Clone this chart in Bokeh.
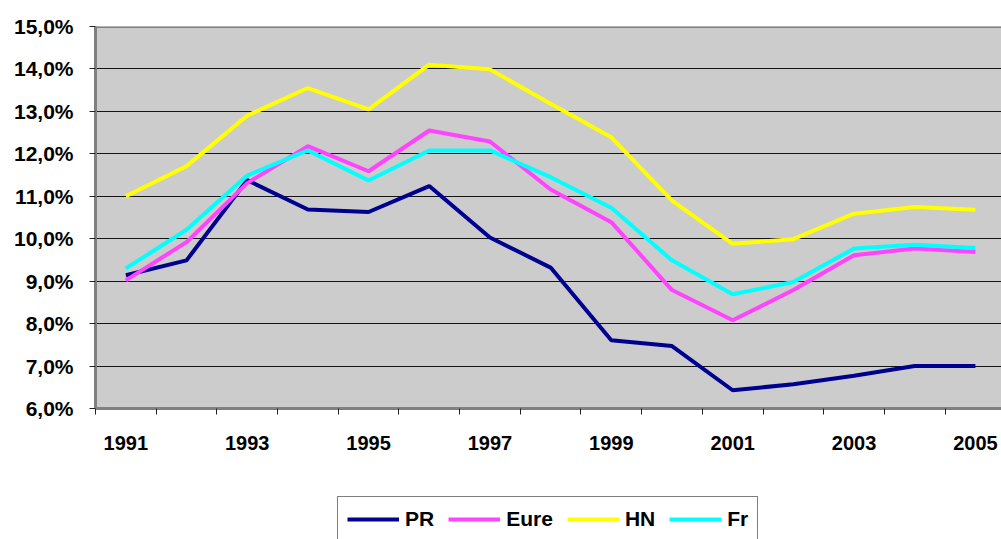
from bokeh.plotting import figure
from bokeh.layouts import column
from bokeh.models import FixedTicker, Span, Legend, LegendItem, Range1d
from bokeh.embed import file_html
from bokeh.resources import INLINE

# ---- data ----
years = [1991, 1992, 1993, 1994, 1995, 1996, 1997, 1998, 1999, 2000, 2001, 2002, 2003, 2004, 2005]
pr = [9.14, 9.49, 11.38, 10.69, 10.63, 11.24, 10.03, 9.32, 7.61, 7.47, 6.43, 6.57, 6.77, 7.00, 7.00]
eure = [9.02, 9.92, 11.31, 12.18, 11.59, 12.55, 12.29, 11.16, 10.39, 8.79, 8.08, 8.79, 9.61, 9.77, 9.69]
hn = [11.00, 11.71, 12.90, 13.55, 13.05, 14.10, 13.99, 13.18, 12.39, 10.90, 9.88, 9.99, 10.59, 10.75, 10.68]
fr = [9.30, 10.21, 11.49, 12.08, 11.37, 12.08, 12.08, 11.45, 10.73, 9.49, 8.69, 8.98, 9.77, 9.86, 9.78]
series_names = ["PR", "Eure", "HN", "Fr"]
series_colors = ["#000090", "#FF44FF", "#FFFF00", "#00FFFF"]
x_tick_years = [1991, 1993, 1995, 1997, 1999, 2001, 2003, 2005]
x_tick_labels = ["1991", "1993", "1995", "1997", "1999", "2001", "2003", "2005"]
y_ticks = [6, 7, 8, 9, 10, 11, 12, 13, 14, 15]
y_tick_labels = ["6,0%", "7,0%", "8,0%", "9,0%", "10,0%", "11,0%", "12,0%", "13,0%", "14,0%", "15,0%"]

FONT = "Liberation Sans"

p = figure(width=1001, height=490, output_backend="svg", toolbar_location=None,
           x_range=Range1d(1990.5, 2005.43), y_range=Range1d(6, 15),
           min_border_left=95, min_border_right=0, min_border_top=26, min_border_bottom=82)
p.background_fill_color = "#CCCCCC"
p.border_fill_color = "white"
p.outline_line_color = None

# axes
p.xaxis.ticker = FixedTicker(ticks=x_tick_years,
                             minor_ticks=[y - 0.5 for y in years] + [years[-1] + 0.5])
p.xaxis.major_label_overrides = {y: l for y, l in zip(x_tick_years, x_tick_labels)}
p.xaxis.major_tick_out = 0
p.xaxis.major_tick_in = 0
p.xaxis.minor_tick_out = 6
p.xaxis.minor_tick_in = 0
p.xaxis.minor_tick_line_color = "#222222"
p.xaxis.major_label_standoff = 21
p.xaxis.major_label_text_font_size = "20px"

p.yaxis.ticker = FixedTicker(ticks=y_ticks, minor_ticks=[])
p.yaxis.major_label_overrides = {t: l for t, l in zip(y_ticks, y_tick_labels)}
p.yaxis.major_tick_out = 6
p.yaxis.major_tick_in = 0
p.yaxis.major_tick_line_color = "#222222"
p.yaxis.major_label_standoff = 16
p.yaxis.major_label_text_font_size = "21px"

for ax in (p.xaxis, p.yaxis):
    ax.axis_line_color = "#808080"
    ax.axis_line_width = 3
    ax.major_label_text_font = FONT
    ax.major_label_text_font_style = "bold"
    ax.major_label_text_color = "black"

p.xgrid.visible = False
p.ygrid.grid_line_color = "black"
p.ygrid.grid_line_width = 1
p.ygrid.grid_line_alpha = 0.9

top = Span(location=15, dimension="width", line_color="#808080", line_width=3)
p.add_layout(top)

series = [pr, eure, hn, fr]
for name, col, vals in zip(series_names, series_colors, series):
    p.line(years, vals, line_color=col, line_width=4)

# ---- legend strip (separate figure below the chart; frames align in the column) ----
lf = figure(width=1001, height=49, output_backend="svg", toolbar_location=None,
            x_axis_location=None, y_axis_location=None,
            x_range=Range1d(0, 1), y_range=Range1d(0, 1),
            min_border_left=95, min_border_right=0, min_border_top=0, min_border_bottom=0)
lf.outline_line_color = None
lf.background_fill_color = "white"
lf.border_fill_color = "white"
lf.xgrid.visible = False
lf.ygrid.visible = False

items = []
for name, col, vals in zip(series_names, series_colors, series):
    # same series, lying outside this strip's range: only their legend glyphs show
    r = lf.line(years, vals, line_color=col, line_width=4)
    items.append(LegendItem(label=name, renderers=[r]))

legend = Legend(items=items, orientation="horizontal", location=(242, -3))
legend.label_text_font = FONT
legend.label_text_font_style = "bold"
legend.label_text_font_size = "21px"
legend.label_text_color = "black"
legend.glyph_width = 52
legend.glyph_height = 26
legend.label_height = 26
legend.label_standoff = 6
legend.spacing = 14
legend.padding = 9
legend.margin = 0
legend.border_line_color = "black"
legend.border_line_width = 1
legend.background_fill_color = "white"
legend.background_fill_alpha = 1
lf.add_layout(legend, "center")

layout = column(p, lf, spacing=0)
open("out.html", "w").write(file_html(layout, INLINE))
